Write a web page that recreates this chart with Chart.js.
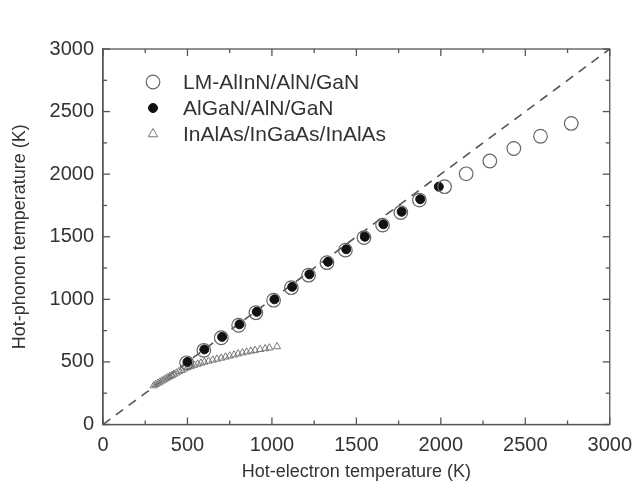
<!DOCTYPE html>
<html>
<head>
<meta charset="utf-8">
<script src="https://cdn.jsdelivr.net/npm/chart.js@4.4.1/dist/chart.umd.min.js"></script>
<style>
  html, body { margin: 0; padding: 0; background: #fff; }
  #wrap { width: 641px; height: 498px; }
</style>
</head>
<body>
<div id="wrap"><canvas id="chart"></canvas></div>
<script>
// --- data ---
const seriesNames = ['LM-AlInN/AlN/GaN', 'AlGaN/AlN/GaN', 'InAlAs/InGaAs/InAlAs'];

const lmX = [495, 597, 700, 803, 905, 1010, 1115, 1217, 1326, 1435, 1545, 1655, 1763, 1873, 2022, 2150, 2290, 2432, 2590, 2772];
const lmY = [493, 593, 693, 793, 893, 993, 1093, 1193, 1293, 1393, 1493, 1593, 1693, 1793, 1900, 2003, 2105, 2205, 2303, 2405];

const alX = [500, 600, 705, 808, 910, 1015, 1120, 1222, 1332, 1440, 1550, 1660, 1768, 1878, 1988];
const alY = [500, 600, 700, 800, 900, 1000, 1100, 1200, 1300, 1400, 1500, 1600, 1700, 1800, 1900];

const inX = [300, 312, 324, 336, 348, 360, 372, 384, 396, 408, 420, 435, 450, 465, 482, 500, 520, 540, 560, 580,
             600, 625, 650, 675, 700, 725, 750, 775, 800, 825, 850, 875, 900, 930, 960, 985, 1030];
const inY = [310, 320, 330, 339, 348, 357, 366, 375, 384, 393, 402, 412, 423, 433, 444, 455, 465, 474, 483, 491,
             499, 507, 515, 523, 531, 540, 548, 556, 565, 573, 580, 587, 593, 600, 606, 612, 622];

const diagX = [0, 3000];
const diagY = [0, 3000];

const majorTicks = [0, 500, 1000, 1500, 2000, 2500, 3000];
const minorTicks = [250, 750, 1250, 1750, 2250, 2750];

const pts = (xs, ys) => xs.map((x, i) => ({ x: x, y: ys[i] }));

const FONT = "'Liberation Sans', Arial, sans-serif";
const TEXT = '#333';
const AXIS = '#555';

// box + inward ticks on all four sides
const framePlugin = {
    id: 'frame',
    beforeDatasetsDraw(chart) {
        const { ctx, chartArea: a, scales: { x, y } } = chart;
        ctx.save();
        ctx.strokeStyle = AXIS;
        ctx.lineWidth = 1.3;
        ctx.strokeRect(a.left, a.top, a.right - a.left, a.bottom - a.top);
        const seg = (x1, y1, x2, y2) => { ctx.beginPath(); ctx.moveTo(x1, y1); ctx.lineTo(x2, y2); ctx.stroke(); };
        const marks = (vals, len) => vals.forEach(v => {
            const px = x.getPixelForValue(v);
            seg(px, a.bottom, px, a.bottom - len);
            seg(px, a.top, px, a.top + len);
            const py = y.getPixelForValue(v);
            seg(a.left, py, a.left + len, py);
            seg(a.right, py, a.right - len, py);
        });
        marks(majorTicks, 7);
        marks(minorTicks, 4);
        ctx.restore();
    }
};

// legend inside the plot, top left
const legendPlugin = {
    id: 'innerLegend',
    afterDatasetsDraw(chart) {
        const { ctx } = chart;
        const rows = [82, 108, 134];
        ctx.save();
        ctx.font = '21px ' + FONT;
        ctx.textBaseline = 'middle';
        [0, 1, 2].forEach(i => {
            const ds = chart.data.datasets[i];
            ctx.fillStyle = ds.pointBackgroundColor;
            ctx.strokeStyle = ds.pointBorderColor;
            ctx.lineWidth = ds.pointBorderWidth;
            Chart.helpers.drawPoint(ctx, {
                pointStyle: ds.pointStyle,
                radius: i === 2 ? 5.5 : ds.pointRadius,
                borderWidth: ds.pointBorderWidth,
                rotation: 0
            }, 153, rows[i]);
            ctx.fillStyle = TEXT;
            ctx.fillText(ds.label, 183, rows[i] + 1);
        });
        ctx.restore();
    }
};

const plain = v => String(v);

new Chart(document.getElementById('chart'), {
    type: 'scatter',
    data: {
        datasets: [{
            label: seriesNames[0],
            data: pts(lmX, lmY),
            pointStyle: 'circle',
            pointRadius: 6.8,
            pointBorderWidth: 1.2,
            pointBorderColor: '#666',
            pointBackgroundColor: 'rgba(255,255,255,0)'
        }, {
            label: seriesNames[1],
            data: pts(alX, alY),
            pointStyle: 'circle',
            pointRadius: 4.5,
            pointBorderWidth: 1,
            pointBorderColor: '#111',
            pointBackgroundColor: '#111'
        }, {
            label: seriesNames[2],
            data: pts(inX, inY),
            pointStyle: 'triangle',
            pointRadius: 4.2,
            pointBorderWidth: 1,
            pointBorderColor: '#777',
            pointBackgroundColor: 'rgba(255,255,255,0)'
        }, {
            type: 'line',
            label: 'y = x',
            data: pts(diagX, diagY),
            borderColor: AXIS,
            borderWidth: 1.6,
            borderDash: [9, 7],
            pointRadius: 0,
            fill: false
        }]
    },
    options: {
        responsive: true,
        maintainAspectRatio: false,
        animation: false,
        layout: { padding: { left: 0, right: 26, top: 49, bottom: 0 } },
        plugins: {
            legend: { display: false },
            tooltip: { enabled: false }
        },
        scales: {
            x: {
                type: 'linear',
                min: 0,
                max: 3000,
                ticks: { stepSize: 500, color: TEXT, padding: 9, font: { family: FONT, size: 20 }, callback: plain },
                grid: { display: false, drawTicks: false },
                border: { display: true, color: AXIS, width: 1.3 },
                title: { display: true, text: 'Hot-electron temperature (K)', color: TEXT,
                         font: { family: FONT, size: 18 }, padding: { top: 0, bottom: 15 } },
                afterFit: s => { s.height = 73.5; }
            },
            y: {
                type: 'linear',
                min: 0,
                max: 3000,
                ticks: { stepSize: 500, color: TEXT, padding: 9, font: { family: FONT, size: 20 }, callback: plain },
                grid: { display: false, drawTicks: false },
                border: { display: true, color: AXIS, width: 1.3 },
                title: { display: true, text: 'Hot-phonon temperature (K)', color: TEXT,
                         font: { family: FONT, size: 18 }, padding: { top: 9, bottom: 0 } },
                afterFit: s => { s.width = 103; }
            }
        }
    },
    plugins: [framePlugin, legendPlugin]
});
</script>
</body>
</html>
